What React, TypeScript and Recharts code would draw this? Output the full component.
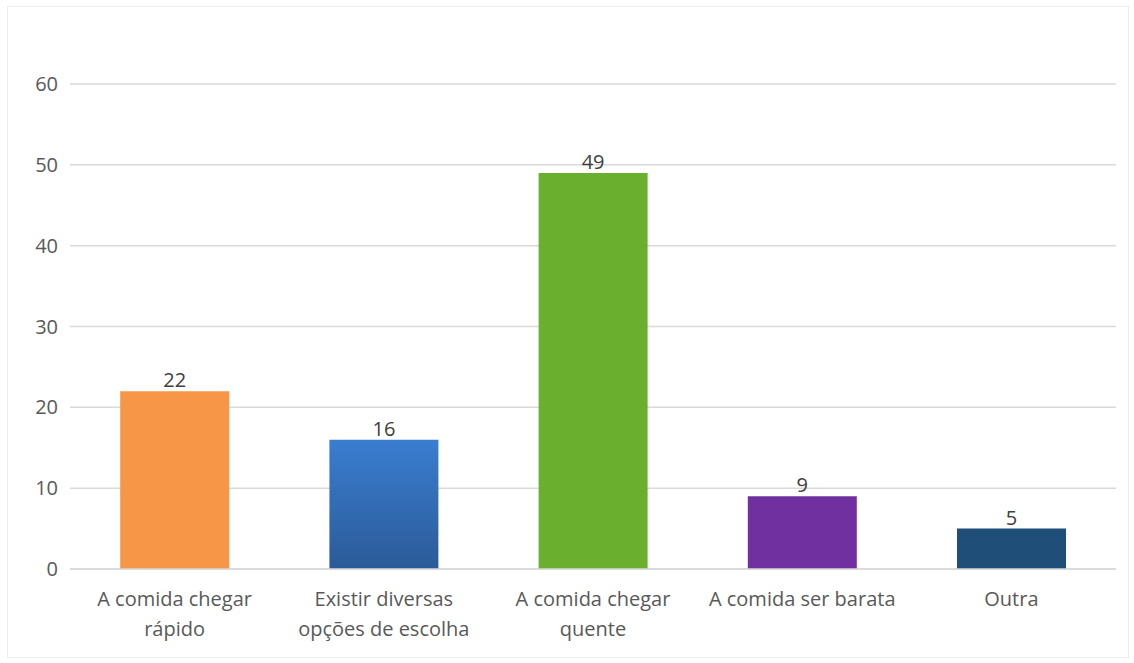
import React from "react";
import { BarChart, Bar, XAxis, YAxis, CartesianGrid, LabelList, Cell } from "recharts";

const categories = [
  "A comida chegar rápido",
  "Existir diversas opções de escolha",
  "A comida chegar quente",
  "A comida ser barata",
  "Outra",
];
const tickLines = [
  ["A comida chegar", "rápido"],
  ["Existir diversas", "opções de escolha"],
  ["A comida chegar", "quente"],
  ["A comida ser barata"],
  ["Outra"],
];
const votes = [22, 16, 49, 9, 5];
const yTicks = [0, 10, 20, 30, 40, 50, 60];
const barColors = ["#F79646", "url(#blueGrad)", "#6AAF2E", "#7030A0", "#1F4E79"];

const data = categories.map((name, i) => ({ name, value: votes[i], idx: i }));

const font = "'Open Sans', 'DejaVu Sans', sans-serif";

const CategoryTick = (props: any) => {
  const { x, y, payload } = props;
  const lines = tickLines[payload.index] || [payload.value];
  return (
    <g transform={`translate(${x},${y})`}>
      {lines.map((l, k) => (
        <text
          key={k}
          x={0}
          y={k * 30}
          dy={29}
          textAnchor="middle"
          fill="#595959"
          fontSize={20}
          fontFamily={font}
        >
          {l}
        </text>
      ))}
    </g>
  );
};

export default function App() {
  return (
    <div
      style={{
        position: "absolute",
        left: 0,
        top: 0,
        width: 1134,
        height: 663,
        background: "#fff",
      }}
    >
      <div
        style={{
          position: "absolute",
          left: 7,
          top: 6,
          width: 1122,
          height: 652,
          border: "1px solid #ececec",
          boxSizing: "border-box",
        }}
      />
      <div style={{ position: "absolute", left: 0, top: 0 }}>
        <BarChart
          width={1134}
          height={663}
          data={data}
          margin={{ top: 84, right: 18, bottom: 0, left: 0 }}
          barCategoryGap="24%"
        >
          <defs>
            <linearGradient id="blueGrad" x1="0" y1="0" x2="0" y2="1">
              <stop offset="0%" stopColor="#3A7DD0" />
              <stop offset="100%" stopColor="#2B5B98" />
            </linearGradient>
          </defs>
          <CartesianGrid vertical={false} stroke="#d9d9d9" strokeWidth={1.5} />
          <XAxis
            dataKey="name"
            height={94}
            interval={0}
            tick={<CategoryTick />}
            tickLine={false}
            axisLine={{ stroke: "#d9d9d9", strokeWidth: 1.5 }}
          />
          <YAxis
            width={70}
            domain={[0, 60]}
            ticks={yTicks}
            tickLine={false}
            axisLine={false}
            tickSize={6}
            tickMargin={6}
            tick={{ fill: "#595959", fontSize: 20, fontFamily: font }}
          />
          <Bar dataKey="value" isAnimationActive={false}>
            {data.map((d, i) => (
              <Cell key={d.name} fill={barColors[i]} />
            ))}
            <LabelList
              dataKey="value"
              position="top"
              offset={4}
              fill="#404040"
              fontSize={20}
              fontFamily={font}
            />
          </Bar>
        </BarChart>
      </div>
    </div>
  );
}
